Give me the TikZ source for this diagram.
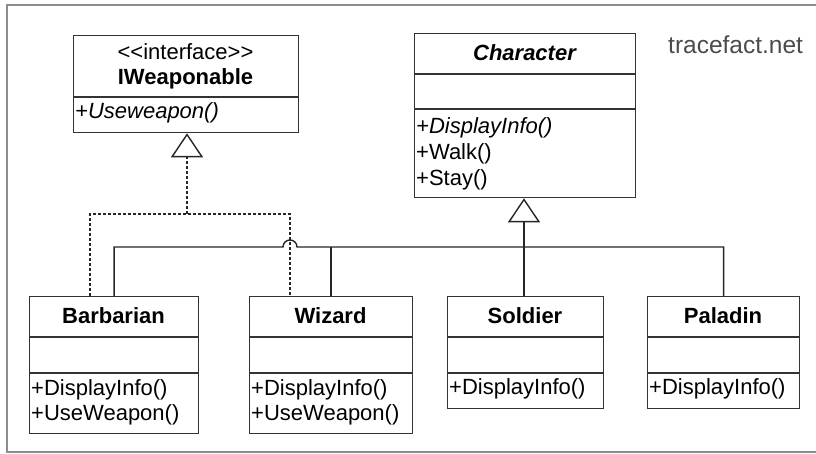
\documentclass[tikz,border=0pt]{standalone}
\usepackage{fontspec}
\setmainfont{Liberation Sans}
\usetikzlibrary{arrows.meta,calc}

\tikzset{
  classbox/.style={draw=black!80, line width=1.3pt, anchor=north west, inner sep=0pt},
  divider/.style={draw=black!80, line width=1.3pt},
  classname/.style={inner sep=0pt, font=\fontsize{22}{25}\selectfont\bfseries},
  member/.style={inner sep=0pt, anchor=west, font=\fontsize{22}{25}\selectfont},
  link/.style={draw=black!85, line width=1.4pt},
  realizes/.style={link, dash pattern=on 3pt off 2pt, -{Triangle[open,length=24pt,width=32pt]}},
  extends/.style={link, -{Triangle[open,length=24pt,width=32pt]}},
}

\begin{document}
\begin{tikzpicture}[x=1pt, y=-1pt]
		\useasboundingbox (0,0) rectangle (816,454);
		%%%%% frame %%%%%
		\draw[black!45, line width=1.3pt] (816,5) -- (7,5) -- (7,452) -- (816,452);
		\node[anchor=west, inner sep=0pt, text=black!70, font=\fontsize{24.5}{28}\selectfont] (site) at (668,45) {tracefact.net};
		
		%%%%% interface %%%%%
		\node[classbox, minimum width=225pt, minimum height=97pt] (iweap) at (73,35) {};
		\draw[divider] (73,97) -- (298,97);
		\node[inner sep=0pt, font=\fontsize{22}{25}\selectfont] (stereo) at (185.5,52) {<{}<interface>{}>};
		\node[classname] (iweapname) at (185.5,79) {IWeaponable};
		\node[member] (iweapuse) at (75,113) {\itshape +Useweapon()};
		
		%%%%% abstract base %%%%%
		\node[classbox, minimum width=221pt, minimum height=164pt] (character) at (414,33) {};
		\draw[divider] (414,74) -- (635,74);
		\draw[divider] (414,109) -- (635,109);
		\node[classname] (charname) at (524.5,53) {\itshape Character};
		\node[member] (chardisp) at (416,128) {\itshape +DisplayInfo()};
		\node[member] (charwalk) at (416,154) {+Walk()};
		\node[member] (charstay) at (416,180) {+Stay()};
		
		%%%%% subclasses %%%%%
		\node[classbox, minimum width=169pt, minimum height=137pt] (barbarian) at (29,296) {};
		\draw[divider] (29,337) -- (198,337);
		\draw[divider] (29,373) -- (198,373);
		\node[classname] (barbname) at (113.5,316) {Barbarian};
		\node[member] (barbdisp) at (31,390) {+DisplayInfo()};
		\node[member] (barbuse) at (31,415) {+UseWeapon()};
		
		\node[classbox, minimum width=163pt, minimum height=137pt] (wizard) at (249,296) {};
		\draw[divider] (249,337) -- (412,337);
		\draw[divider] (249,373) -- (412,373);
		\node[classname] (wizname) at (330.5,316) {Wizard};
		\node[member] (wizdisp) at (251,390) {+DisplayInfo()};
		\node[member] (wizuse) at (251,415) {+UseWeapon()};
		
		\node[classbox, minimum width=156pt, minimum height=112pt] (soldier) at (447,296) {};
		\draw[divider] (447,337) -- (603,337);
		\draw[divider] (447,373) -- (603,373);
		\node[classname] (soldname) at (525,316) {Soldier};
		\node[member] (solddisp) at (449,389) {+DisplayInfo()};
		
		\node[classbox, minimum width=152pt, minimum height=112pt] (paladin) at (647,296) {};
		\draw[divider] (647,337) -- (799,337);
		\draw[divider] (647,373) -- (799,373);
		\node[classname] (palname) at (723,316) {Paladin};
		\node[member] (paldisp) at (649,389) {+DisplayInfo()};
		
		%%%%% realization %%%%%
		\coordinate (split) at (187,214);
		\coordinate (barbdot) at ([xshift=61pt]barbarian.north west);
		\coordinate (wizdot) at ([xshift=41pt]wizard.north west);
		\draw[realizes] (split) -- (iweap.south -| split);
		\draw[link, dash pattern=on 3pt off 2pt] (barbdot) |- (split) -| (wizdot);
		
		%%%%% inheritance %%%%%
		\coordinate (bus) at (524,247);
		\coordinate (hop) at (wizdot |- bus);
		\draw[extends] (soldier.north -| bus) -- (character.south -| bus);
		\draw[link] (barbarian.north) |- ([xshift=-7pt]hop) arc (180:360:7) -- (bus -| paladin.north) -- (paladin.north);
		\draw[link] (wizard.north) -- (wizard.north |- bus);
	\end{tikzpicture}
\end{document}
